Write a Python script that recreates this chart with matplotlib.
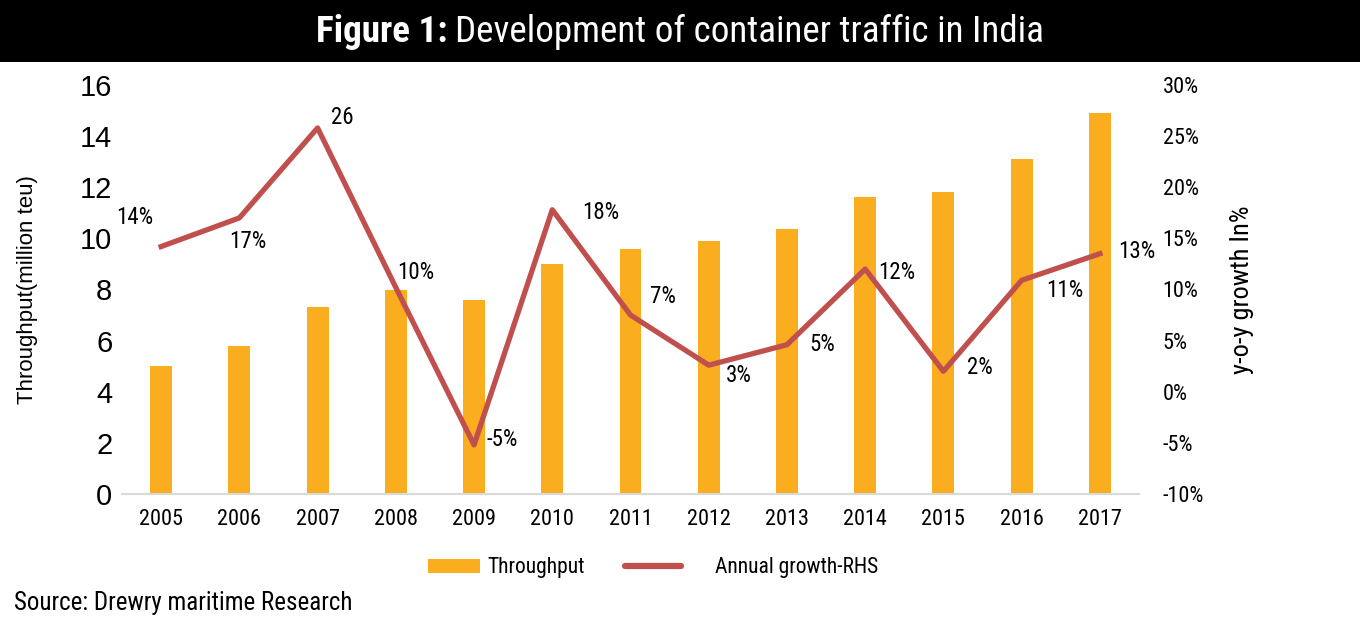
import matplotlib
matplotlib.use('Agg')
import matplotlib.pyplot as plt
from matplotlib.patches import Patch, Rectangle
from matplotlib.lines import Line2D
from matplotlib.ticker import FuncFormatter

# data
years = ['2005', '2006', '2007', '2008', '2009', '2010', '2011',
         '2012', '2013', '2014', '2015', '2016', '2017']
throughput = [5.0, 5.8, 7.3, 8.0, 7.6, 9.0, 9.6, 9.9, 10.35, 11.6, 11.8, 13.1, 14.9]
growth = [14.2, 17.0, 25.8, 10.2, -5.2, 17.8, 7.5, 2.6, 4.6, 12.0, 2.0, 10.9, 13.5]
growth_labels = ['14%', '17%', '26', '10%', '-5%', '18%', '7%',
                 '3%', '5%', '12%', '2%', '11%', '13%']
# label offsets (pixels) from each point
label_off = [(-26, 29), (8, -24), (25, 10), (20, 15), (28, 5), (48, -3), (32, 19),
             (30, -10), (35, 0), (32, -3), (36, 4), (43, -10), (37, 2)]

narrow = ['Roboto Condensed', 'Roboto']
arial = ['Liberation Sans', 'DejaVu Sans']
bar_color = '#F9AD1F'
line_color = '#C0504D'

fig = plt.figure(figsize=(13.6, 6.17), dpi=100)

# title bar
fig.patches.append(Rectangle((0, 1 - 62 / 617), 1, 62 / 617, transform=fig.transFigure,
                             facecolor='black', edgecolor='none', zorder=0))
ty = 1 - 32 / 617
t1 = fig.text(0, ty, 'Figure 1:', color='white', fontsize=26.7,
              fontweight='bold', family=narrow, ha='left', va='center')
t2 = fig.text(0, ty, 'Development of container traffic in India', color='white',
              fontsize=26.7, family=narrow, ha='left', va='center')
r = fig.canvas.get_renderer()
w1 = t1.get_window_extent(r).width
w2 = t2.get_window_extent(r).width
gap = 7
x0 = (1360 - (w1 + gap + w2)) / 2
t1.set_x(x0 / 1360)
t2.set_x((x0 + w1 + gap) / 1360)

ax = fig.add_axes([122 / 1360, 1 - 494 / 617, 1017 / 1360, 409 / 617])
x = range(len(years))
ax.bar(x, throughput, width=0.28, color=bar_color, zorder=2)
ax.set_xlim(-0.5, 12.5)
ax.set_ylim(0, 16)
ax.set_yticks(range(0, 17, 2))
ax.set_xticks(list(x))
ax.set_xticklabels(years, family=narrow, fontsize=16)
for lab in ax.get_yticklabels():
    lab.set_fontsize(21)
    lab.set_family(arial)
ax.tick_params(axis='both', length=0)
ax.tick_params(axis='x', pad=11)
ax.tick_params(axis='y', pad=7)
for s in ['top', 'right', 'left']:
    ax.spines[s].set_visible(False)
ax.spines['bottom'].set_color('#d9d9d9')
ax.spines['bottom'].set_linewidth(1.5)
ax.set_ylabel('Throughput(million teu)', family=arial, fontsize=16, labelpad=30)

ax2 = ax.twinx()
ax2.plot(x, growth, color=line_color, linewidth=3.8, zorder=3)
ax2.set_ylim(-10, 30)
ax2.set_yticks(range(-10, 31, 5))
ax2.yaxis.set_major_formatter(FuncFormatter(lambda v, p: f'{v:.0f}%'))
for lab in ax2.get_yticklabels():
    lab.set_fontsize(16)
    lab.set_family(narrow)
ax2.tick_params(axis='y', length=0, pad=17)
for s in ['top', 'right', 'left', 'bottom']:
    ax2.spines[s].set_visible(False)
ax2.set_ylabel('y-o-y growth In%', family=narrow, fontsize=19, labelpad=19)

for i, (g, lab) in enumerate(zip(growth, growth_labels)):
    ax2.annotate(lab, (i, g), xytext=label_off[i], textcoords='offset pixels',
                 ha='center', va='center', fontsize=16.5, family=narrow)

# legend: two pieces so the gaps match the original
leg_y = 1 - 568 / 617
leg1 = fig.legend([Patch(facecolor=bar_color, edgecolor='none')], ['Throughput'],
                  loc='center left', bbox_to_anchor=(428 / 1360, leg_y), frameon=False,
                  prop={'family': narrow, 'size': 15.5}, handlelength=2.4, handleheight=0.6,
                  handletextpad=0.35, borderpad=0, borderaxespad=0)
fig.legend([Line2D([0], [0], color=line_color, linewidth=4.5, solid_capstyle='round')],
           ['Annual growth-RHS'], loc='center left', bbox_to_anchor=(625 / 1360, leg_y),
           frameon=False, prop={'family': narrow, 'size': 15.5}, handlelength=2.6,
           handletextpad=1.6, borderpad=0, borderaxespad=0)

fig.text(14 / 1360, 1 - 603 / 617, 'Source: Drewry maritime Research', family=narrow,
         fontsize=18, ha='left', va='center')

fig.savefig('out.png', dpi=100)
